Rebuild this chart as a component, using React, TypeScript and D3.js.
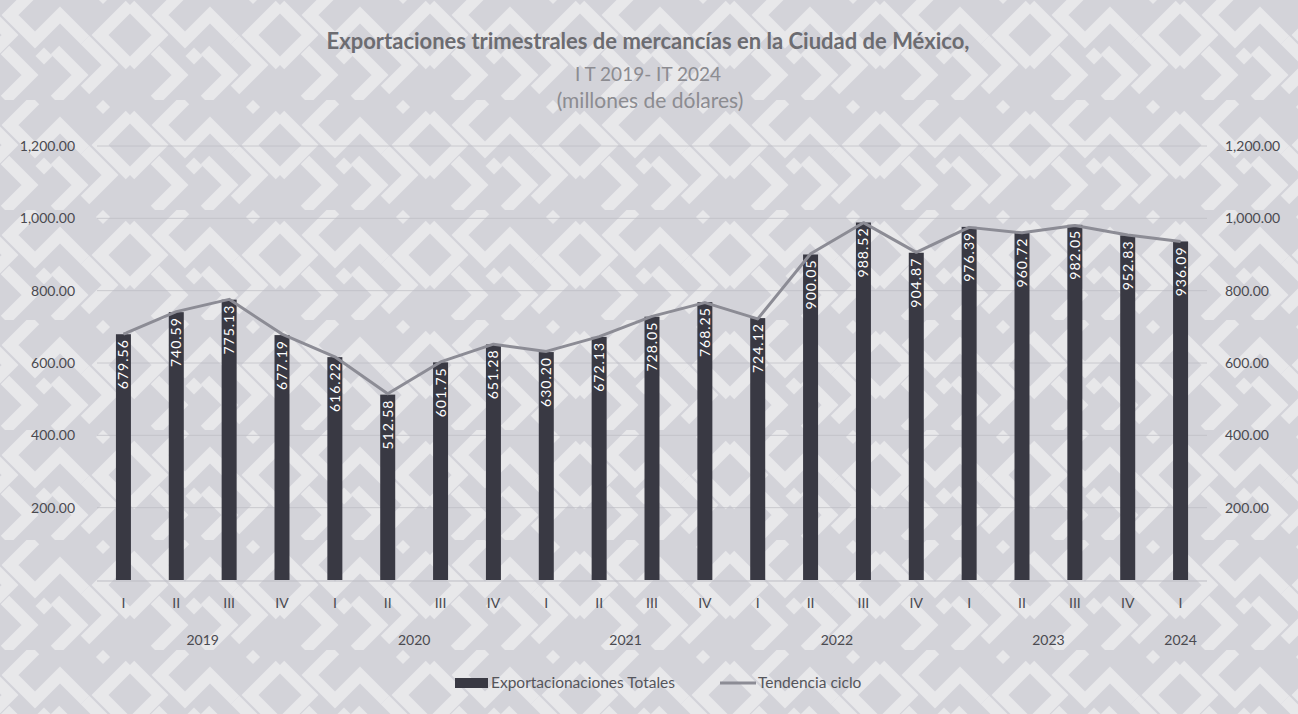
import React from "react";
import * as d3 from "d3";

const quarters = ["I","II","III","IV","I","II","III","IV","I","II","III","IV","I","II","III","IV","I","II","III","IV","I"];
const years = ["2019","2020","2021","2022","2023","2024"];
const exportValues = [679.56,740.59,775.13,677.19,616.22,512.58,601.75,651.28,630.20,672.13,728.05,768.25,724.12,900.05,988.52,904.87,976.39,960.72,982.05,952.83,936.09];
const trendValues = [680,742,776,680,617,515,603,652,632,673,729,767,722,902,988,906,975,960,980,954,936];
const yTicks = [200,400,600,800,1000,1200];

const W = 1298, H = 714;
const FONT = "Lato, 'Open Sans', sans-serif";

export default function App() {
  const idx = d3.range(exportValues.length);
  const x = d3.scalePoint<number>().domain(idx).range([97, 1207]).padding(0.5);
  const y = d3.scaleLinear().domain([0, 1200]).range([580, 146]);
  const barW = 15;
  const fmt = d3.format(",.2f");
  const line = d3.line<number>().x((_, i) => x(i)!).y((d) => y(d));

  // year groups: every 4 quarters
  const yearCenters = years.map((yr, g) => {
    const members = idx.filter((i) => Math.floor(i / 4) === g);
    return { yr, cx: d3.mean(members, (i) => x(i)!)! };
  });

  return (
    <svg width={W} height={H} style={{ position: "absolute", left: 0, top: 0 }} fontFamily={FONT}>
      <defs>
        <pattern id="fret" width="150" height="110" patternUnits="userSpaceOnUse" patternTransform="translate(-20,-10)">
          <rect width="150" height="110" fill="#d0d0d7" />
          <g fill="none" stroke="#f2f2f4" strokeOpacity="0.8" strokeWidth="12" strokeLinejoin="miter">
            <polyline points="0,15 30,45 0,75" />
            <polyline points="55,0 30,25 55,50 80,25 105,50" />
            <polyline points="75,110 100,85 75,60" />
            <polyline points="150,15 120,45 150,75" />
            <polyline points="105,50 130,75 105,100" />
            <polyline points="25,110 50,85 25,60" />
          </g>
          <rect x="58" y="60" width="12" height="12" fill="#f2f2f4" fillOpacity="0.8" transform="rotate(45 64 66)" />
          <rect x="118" y="2" width="10" height="10" fill="#f2f2f4" fillOpacity="0.8" transform="rotate(45 123 7)" />
        </pattern>
      </defs>
      <rect width={W} height={H} fill="url(#fret)" />
      <rect width={W} height={H} fill="#dadadf" opacity="0.25" />

      {/* title */}
      <g textAnchor="middle">
        <text x={648} y={49} fontSize={22} fontWeight="bold" fill="#6c6c71">
          Exportaciones trimestrales de mercancías en la Ciudad de México,
        </text>
        <text x={648} y={81} fontSize={19} fill="#8c8c91">I T 2019- IT 2024</text>
        <text x={650} y={108} fontSize={21} fill="#8c8c91">(millones de dólares)</text>
      </g>

      {/* gridlines */}
      {yTicks.map((t) => (
        <line key={t} x1={97} x2={1207} y1={y(t)} y2={y(t)} stroke="#bcbcc3" strokeOpacity={0.7} strokeWidth={1} />
      ))}
      <line x1={97} x2={1207} y1={y(0) + 1} y2={y(0) + 1} stroke="#bdbdc4" strokeWidth={1} />

      {/* left and right axes */}
      {yTicks.map((t) => (
        <g key={"l" + t} fontSize={14} fill="#4a4a50">
          <text x={75} y={y(t)} dy="0.35em" textAnchor="end">{fmt(t)}</text>
          <text x={1225} y={y(t)} dy="0.35em" textAnchor="start">{fmt(t)}</text>
        </g>
      ))}

      {/* bars */}
      {exportValues.map((v, i) => (
        <rect key={i} x={x(i)! - barW / 2} y={y(v)} width={barW} height={y(0) - y(v)} fill="#393943" />
      ))}

      {/* trend */}
      <path d={line(trendValues) ?? ""} fill="none" stroke="#8c8c95" strokeWidth={3} strokeLinejoin="round" />

      {/* bar labels */}
      {exportValues.map((v, i) => (
        <text
          key={"v" + i}
          transform={`translate(${x(i)},${y(v) + 5}) rotate(-90)`}
          textAnchor="end"
          dy="0.36em"
          fontSize={14}
          letterSpacing={1}
          fill="#ffffff"
        >
          {v.toFixed(2)}
        </text>
      ))}

      {/* category axis */}
      {quarters.map((q, i) => (
        <text key={"q" + i} x={x(i)} y={608} textAnchor="middle" fontSize={14} fill="#4a4a50">{q}</text>
      ))}
      {yearCenters.map((d) => (
        <text key={d.yr} x={d.cx} y={645} textAnchor="middle" fontSize={14} fill="#4a4a50">{d.yr}</text>
      ))}

      {/* legend */}
      <rect x={455} y={678} width={33} height={10} fill="#393943" />
      <text x={491} y={688} fontSize={15.5} fill="#55555b">Exportacionaciones Totales</text>
      <line x1={720} x2={756} y1={683} y2={683} stroke="#8c8c95" strokeWidth={3} />
      <text x={758} y={688} fontSize={15.5} fill="#55555b">Tendencia ciclo</text>
    </svg>
  );
}
